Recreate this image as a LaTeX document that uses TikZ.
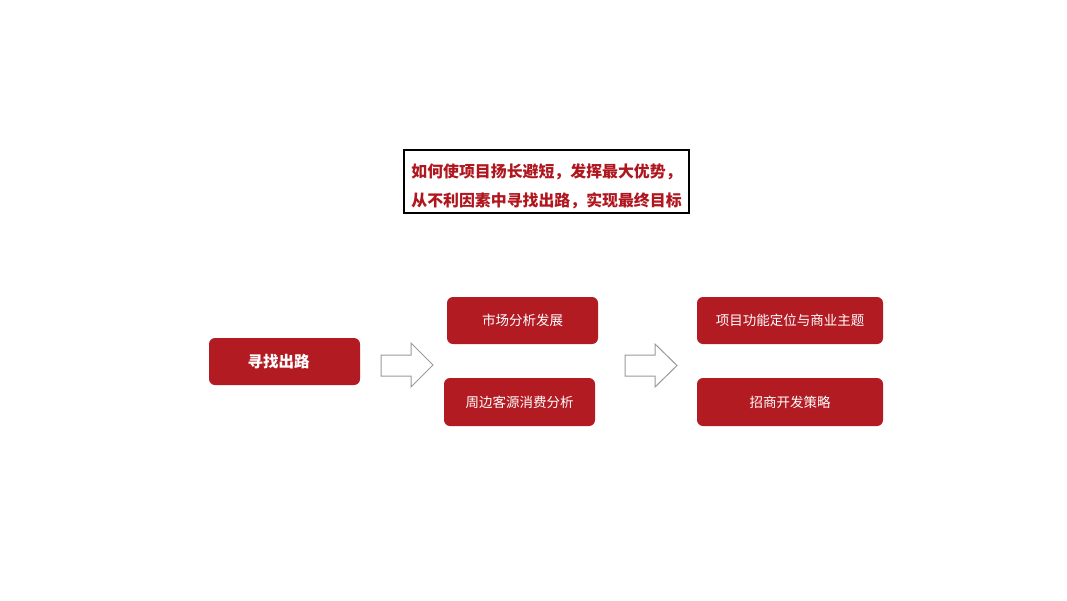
\documentclass[tikz,border=0pt]{standalone}
\usepackage{fontspec}
\setmainfont{Noto Sans CJK SC}
\usetikzlibrary{positioning}
\definecolor{boxred}{HTML}{B31B23}
\definecolor{titlered}{HTML}{B0161E}
\definecolor{arrowgray}{HTML}{9A9A9A}
\tikzset{
  redbox/.style={fill=boxred, rounded corners=6pt, text=white, inner sep=0pt,
    align=center, font=\fontsize{13.5}{16}\selectfont},
  blockarrow/.style={draw=arrowgray, fill=white, line width=1pt, line join=miter},
}

\begin{document}
\begin{tikzpicture}[x=1pt, y=-1pt]
    \useasboundingbox[fill=white] (0,0) rectangle (1067,600);
    % question
    \node[draw=black, line width=1.2pt, minimum width=285pt, minimum height=63pt]
      (title) at (546.5,181.5) {};
    \node[inner sep=0pt, align=center, text=titlered, font=\fontsize{15.9}{29}\selectfont\bfseries,
      yshift=-5pt] (question) at (title.center)
      {如何使项目扬长避短，发挥最大优势，\\从不利因素中寻找出路，实现最终目标};
    % start
    \node[redbox, minimum width=151pt, minimum height=47pt, font=\fontsize{15.5}{18}\selectfont\bfseries]
      (start) at (284.5,361.5) {\hspace*{-12pt}寻找出路};
    % analysis
    \node[redbox, minimum width=151pt, minimum height=47pt] (market) at (522.5,320.5) {市场分析发展};
    \node[redbox, minimum width=151pt, minimum height=48pt] (guest) at (519.5,402) {周边客源消费分析};
    % strategy
    \node[redbox, minimum width=186pt, minimum height=47pt] (theme) at (790,320.5) {项目功能定位与商业主题};
    \node[redbox, minimum width=186pt, minimum height=48pt] (invest) at (790,402) {招商开发策略};
    % arrows
    \draw[blockarrow] (381,355) -- (411,355) -- (411,343) -- (433,365) -- (411,387) -- (411,376) -- (381,376) -- cycle;
    \draw[blockarrow] (625,355) -- (655,355) -- (655,344) -- (677,365.5) -- (655,387) -- (655,376) -- (625,376) -- cycle;
  \end{tikzpicture}
\end{document}
